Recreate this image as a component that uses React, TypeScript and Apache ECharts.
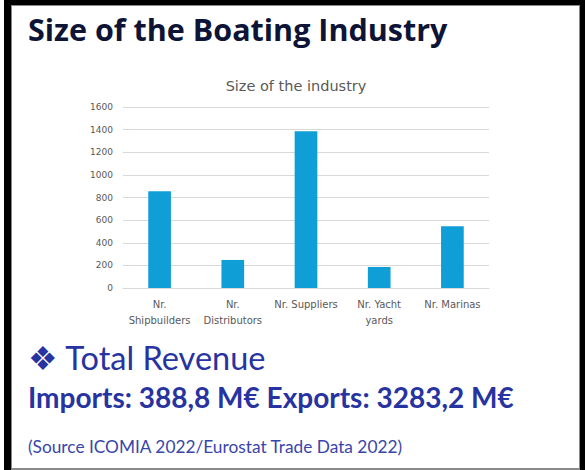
import React, { useEffect, useRef } from "react";
import * as echarts from "echarts";

const categories = ["Nr.\nShipbuilders", "Nr.\nDistributors", "Nr. Suppliers", "Nr. Yacht\nyards", "Nr. Marinas"];
const values = [855, 248, 1385, 186, 545];
const yTicks = { min: 0, max: 1600, interval: 200 };
const pageTitle = "Size of the Boating Industry";
const chartTitle = "Size of the industry";
const revenueHeading = "❖ Total Revenue";
const revenueLine = "Imports: 388,8 M€ Exports: 3283,2 M€";
const sourceLine = "(Source ICOMIA 2022/Eurostat Trade Data 2022)";

export default function App() {
  const ref = useRef<HTMLDivElement>(null);
  useEffect(() => {
    if (!ref.current) return;
    const chart = echarts.init(ref.current, null, { renderer: "svg" });
    chart.setOption({
      animation: false,
      backgroundColor: "#ffffff",
      title: {
        text: chartTitle,
        left: 291,
        textAlign: "center",
        top: 73,
        textStyle: { fontFamily: "DejaVu Sans", fontSize: 14.5, fontWeight: "normal", color: "#595959" },
      },
      grid: { left: 123, right: 96, top: 107, bottom: 182 },
      xAxis: {
        type: "category",
        data: categories,
        axisLine: { lineStyle: { color: "#d9d9d9" } },
        axisTick: { show: false },
        axisLabel: { color: "#595959", fontSize: 10, fontFamily: "DejaVu Sans", lineHeight: 16, margin: 8, interval: 0 },
      },
      yAxis: {
        type: "value",
        min: yTicks.min,
        max: yTicks.max,
        interval: yTicks.interval,
        axisLine: { show: false },
        axisTick: { show: false },
        splitLine: { lineStyle: { color: "#d9d9d9" } },
        axisLabel: {
          color: "#595959",
          fontSize: 9,
          fontFamily: "DejaVu Sans",
          margin: 10,
          formatter: (v: number) => String(v),
        },
      },
      series: [
        {
          type: "bar",
          data: values,
          barWidth: "31%",
          itemStyle: { color: "#0f9ed5" },
        },
      ],
      graphic: [
        { type: "rect", left: 4, top: 0, shape: { width: 7, height: 470 }, style: { fill: "#000" } },
        { type: "rect", left: 4, top: 0, shape: { width: 581, height: 5 }, style: { fill: "#000" } },
        { type: "rect", left: 580, top: 0, shape: { width: 5, height: 470 }, style: { fill: "#000" } },
        { type: "rect", left: 11, top: 5, shape: { width: 1, height: 465 }, style: { fill: "#8a8a8a" } },
        { type: "rect", left: 579, top: 5, shape: { width: 1, height: 465 }, style: { fill: "#8a8a8a" } },
        { type: "rect", left: 11, top: 5, shape: { width: 569, height: 1 }, style: { fill: "#8a8a8a" } },
        { type: "rect", left: 11, top: 468, shape: { width: 569, height: 2 }, style: { fill: "#8a8a8a" } },
        {
          type: "text",
          left: 28,
          top: 13,
          style: { text: pageTitle, fill: "#0e1436", font: "bold 30.5px 'Open Sans', sans-serif" },
        },
        {
          type: "text",
          left: 28,
          top: 341,
          style: { text: revenueHeading, fill: "#2633a0", font: "32.5px Lato, sans-serif" },
        },
        {
          type: "text",
          left: 28,
          top: 383,
          style: { text: revenueLine, fill: "#2633a0", font: "bold 28px Lato, sans-serif" },
        },
        {
          type: "text",
          left: 28,
          top: 438,
          style: { text: sourceLine, fill: "#3a45ab", font: "17.3px Lato, sans-serif" },
        },
      ],
    });
    return () => chart.dispose();
  }, []);
  return (
    <div style={{ position: "fixed", left: 0, top: 0, width: 585, height: 470, background: "#fff" }}>
      <div ref={ref} style={{ width: 585, height: 470 }} />
    </div>
  );
}
